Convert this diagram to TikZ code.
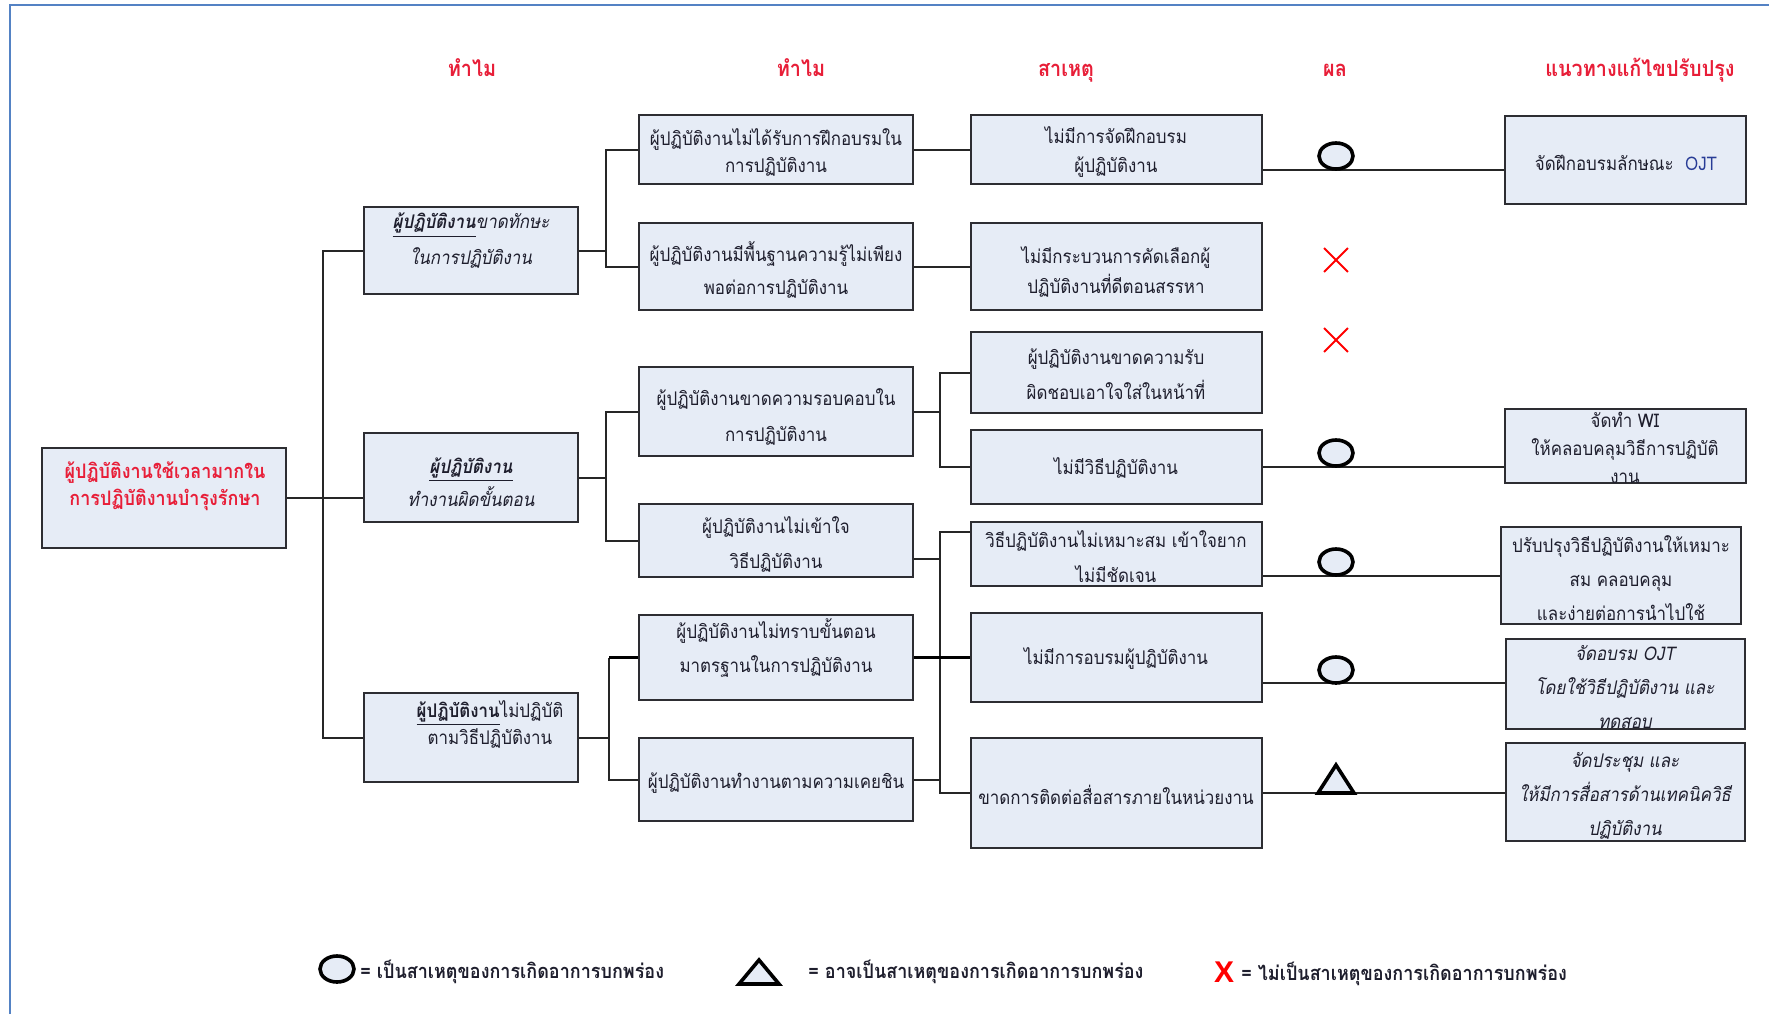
\documentclass[tikz,border=0pt]{standalone}
\usepackage{fontspec}
\usetikzlibrary{fit,shapes.geometric,shapes.misc}
\newfontfamily\thai[Script=Thai,FakeStretch=0.9]{Loma}
\newfontfamily\latinsans{Liberation Sans}
\definecolor{boxfill}{RGB}{230,236,246}
\definecolor{boxline}{RGB}{45,45,50}
\definecolor{hdred}{RGB}{232,30,56}
\definecolor{txtcol}{RGB}{30,30,45}
\definecolor{framecol}{RGB}{84,130,196}
\definecolor{ojtblue}{RGB}{40,60,150}
\begin{document}
\begin{tikzpicture}[x=0.5pt,y=-0.5pt,
  box/.style={draw=boxline, fill=boxfill, line width=1.1pt, inner sep=0pt},
  conn/.style={draw=black!85, line width=1pt},
  thickconn/.style={draw=black, line width=1.7pt},
  txt/.style={align=center, inner sep=0pt, text=txtcol, font=\thai\fontsize{9.4}{#1}\selectfont},
  txt/.default=16,
  itxt/.style={txt=#1, font=\thai\itshape\fontsize{9.4}{#1}\selectfont},
  hdr/.style={anchor=base, inner sep=0pt, text=hdred, font=\thai\bfseries\fontsize{11}{13}\selectfont},
  okmark/.style={ellipse, draw=black, fill=boxfill, line width=1.8pt, minimum width=17pt, minimum height=13pt, inner sep=0pt},
  nomark/.style={cross out, draw=red, line width=0.9pt, minimum size=11pt, inner sep=0pt},
  trimark/.style={draw=black, fill=boxfill, line width=1.8pt, line join=miter},
  legtxt/.style={anchor=base west, inner sep=0pt, text=txtcol, font=\thai\bfseries\fontsize{10}{12}\selectfont},
]
\useasboundingbox (0,0) rectangle (1769,1014);
\fill[white] (0,0) rectangle (1769,1014);
\draw[framecol, line width=1.2pt] (10,1014) -- (10,5) -- (1769,5);

% column headings
\node[hdr] (h1) at (472,76) {ทำไม};
\node[hdr] (h2) at (801,76) {ทำไม};
\node[hdr] (h3) at (1066,76) {สาเหตุ};
\node[hdr] (h4) at (1335,76) {ผล};
\node[hdr] (h5) at (1640,76) {แนวทางแก้ไขปรับปรุง};

% boxes
\node[box, fit={(42,448) (286,548)}] (root) {};
\node[box, fit={(364,207) (578,294)}] (A) {};
\node[box, fit={(364,433) (578,522)}] (B) {};
\node[box, fit={(364,693) (578,782)}] (C) {};
\node[box, fit={(639,115) (913,184)}] (A1) {};
\node[box, fit={(639,223) (913,310)}] (A2) {};
\node[box, fit={(639,367) (913,456)}] (B1) {};
\node[box, fit={(639,504) (913,577)}] (B2) {};
\node[box, fit={(639,615) (913,700)}] (C1) {};
\node[box, fit={(639,738) (913,821)}] (C2) {};
\node[box, fit={(971,115) (1262,184)}] (A1c) {};
\node[box, fit={(971,223) (1262,310)}] (A2c) {};
\node[box, fit={(971,332) (1262,413)}] (B1a) {};
\node[box, fit={(971,430) (1262,504)}] (B1b) {};
\node[box, fit={(971,522) (1262,586)}] (B2c) {};
\node[box, fit={(971,613) (1262,702)}] (Tc) {};
\node[box, fit={(971,738) (1262,848)}] (Comm) {};
\node[box, fit={(1505,116) (1746,204)}] (S1) {};
\node[box, fit={(1505,409) (1746,483)}] (S2) {};
\node[box, fit={(1501,527) (1741,624)}] (S3) {};
\node[box, fit={(1506,639) (1745,729)}] (S4) {};
\node[box, fit={(1506,743) (1745,841)}] (S5) {};

% box texts
\node[txt=13.5, text=hdred, font=\thai\bfseries\fontsize{10}{13.5}\selectfont] (t-root) at (165,486)
  {ผู้ปฏิบัติงานใช้เวลามากใน\\การปฏิบัติงานบำรุงรักษา};
\node[txt=18] (t-A) at (471,241)
  {\underline{\bfseries\itshape ผู้ปฏิบัติงาน}{\itshape ขาดทักษะ}\\{\itshape ในการปฏิบัติงาน}};
\node[txt=16.5] (t-B) at (471,482)
  {\underline{\bfseries\itshape ผู้ปฏิบัติงาน}\\{\itshape ทำงานผิดขั้นตอน}};
\node[txt=13.5] (t-C) at (490,724)
  {\underline{\bfseries ผู้ปฏิบัติงาน}ไม่ปฏิบัติ\\ตามวิธีปฏิบัติงาน};
\node[txt=13.5] (t-A1) at (776,152) {ผู้ปฏิบัติงานไม่ได้รับการฝึกอบรมใน\\การปฏิบัติงาน};
\node[txt=16.5] (t-A2) at (776,270) {ผู้ปฏิบัติงานมีพื้นฐานความรู้ไม่เพียง\\พอต่อการปฏิบัติงาน};
\node[txt=18] (t-B1) at (776,417) {ผู้ปฏิบัติงานขาดความรอบคอบใน\\การปฏิบัติงาน};
\node[txt=17.5] (t-B2) at (776,544) {ผู้ปฏิบัติงานไม่เข้าใจ\\วิธีปฏิบัติงาน};
\node[txt=17] (t-C1) at (776,648) {ผู้ปฏิบัติงานไม่ทราบขั้นตอน\\มาตรฐานในการปฏิบัติงาน};
\node[txt] (t-C2) at (776,783) {ผู้ปฏิบัติงานทำงานตามความเคยชิน};
\node[txt=14.5] (t-A1c) at (1116,152) {ไม่มีการจัดฝึกอบรม\\ผู้ปฏิบัติงาน};
\node[txt=15] (t-A2c) at (1116,272) {ไม่มีกระบวนการคัดเลือกผู้\\ปฏิบัติงานที่ดีตอนสรรหา};
\node[txt=17.5] (t-B1a) at (1116,374) {ผู้ปฏิบัติงานขาดความรับ\\ผิดชอบเอาใจใส่ในหน้าที่};
\node[txt] (t-B1b) at (1116,468) {ไม่มีวิธีปฏิบัติงาน};
\node[txt=17.5] (t-B2c) at (1116,557) {วิธีปฏิบัติงานไม่เหมาะสม เข้าใจยาก\\ไม่มีชัดเจน};
\node[txt] (t-Tc) at (1116,658) {ไม่มีการอบรมผู้ปฏิบัติงาน};
\node[txt] (t-Comm) at (1116,795) {ขาดการติดต่อสื่อสารภายในหน่วยงาน};
\node[txt] (t-S1) at (1626,163) {จัดฝึกอบรมลักษณะ\ \ {\color{ojtblue}OJT}};
\node[txt=14] (t-S2) at (1625,448) {จัดทำ WI\\ให้คลอบคลุมวิธีการปฏิบัติ\\งาน};
\node[txt=17] (t-S3) at (1621,578) {ปรับปรุงวิธีปฏิบัติงานให้เหมาะ\\สม คลอบคลุม\\และง่ายต่อการนำไปใช้};
\node[itxt=17] (t-S4) at (1625,687) {จัดอบรม OJT\\โดยใช้วิธีปฏิบัติงาน และ\\ทดสอบ};
\node[itxt=17] (t-S5) at (1625,796) {จัดประชุม และ\\ให้มีการสื่อสารด้านเทคนิควิธี\\ปฏิบัติงาน};

% spine positions
\coordinate (sp1) at (323,0);
\coordinate (sp2) at (606,0);
\coordinate (sp2c) at (609,0);
\coordinate (sp3) at (940,0);

% first level
\draw[conn] (root.east) -- (root.east -| B.west);
\draw[conn] (A.west) -- (A.west -| sp1) -- (C.west -| sp1) -- (C.west);

% second level
\draw[conn] (A.east) -- (A.east -| sp2);
\draw[conn] (A1.west) -- (A1.west -| sp2) -- (A2.west -| sp2) -- (A2.west);
\draw[conn] (B.east) -- (B.east -| sp2);
\draw[conn] (B1.west) -- (B1.west -| sp2) -- (B2.west -| sp2) -- (B2.west);
\draw[conn] (C.east) -- (C.east -| sp2c);
\draw[conn] (C2.west) -- (C2.west -| sp2c) -- (C1.west -| sp2c);
\draw[thickconn] (C1.west -| sp2c) -- (C1.west);

% third level
\draw[conn] (A1.east) -- (A1c.west);
\draw[conn] (A2.east) -- (A2c.west);
\draw[conn] (B1.east) -- (B1.east -| sp3);
\draw[conn] (B1a.west) -- (B1a.west -| sp3) -- (B1b.west -| sp3) -- (B1b.west);
\coordinate (b2out) at ([yshift=-9.25pt]B2.east);
\coordinate (b2in) at ([yshift=11pt]B2c.west);
\draw[conn] (b2out) -- (b2out -| sp3);
\draw[conn] (b2in) -- (b2in -| sp3) -- (Comm.west -| sp3) -- (Comm.west);
\draw[thickconn] (C1.east) -- (Tc.west);
\draw[conn] (C2.east) -- (C2.east -| sp3);

% causes to improvements
\coordinate (r1) at ([yshift=-10pt]A1c.east);
\draw[conn] (r1) -- (r1 -| S1.west);
\draw[conn] (B1b.east) -- (B1b.east -| S2.west);
\coordinate (r3) at ([yshift=-11pt]B2c.east);
\draw[conn] (r3) -- (r3 -| S3.west);
\coordinate (r4) at ([yshift=-12.75pt]Tc.east);
\draw[conn] (r4) -- (r4 -| S4.west);
\draw[conn] (Comm.east) -- (Comm.east -| S5.west);

% result marks
\node[okmark] (m1) at (1336,156) {};
\node[nomark] (m2) at (1336,260) {};
\node[nomark] (m3) at (1336,340) {};
\node[okmark] (m4) at (1336,453) {};
\node[okmark] (m5) at (1336,562) {};
\node[okmark] (m6) at (1336,670) {};
\coordinate (m7) at (1336,779);
\filldraw[trimark] (1318,793) -- (1336,765) -- (1354,793) -- cycle;

% legend
\node[okmark] (lg1) at (337,969) {};
\node[legtxt] (lt1) at (360,978) {= เป็นสาเหตุของการเกิดอาการบกพร่อง};
\coordinate (lg2) at (759,972);
\filldraw[trimark] (739,984) -- (759,960) -- (779,984) -- cycle;
\node[legtxt] (lt2) at (808,978) {= อาจเป็นสาเหตุของการเกิดอาการบกพร่อง};
\node[inner sep=0pt, text=red, font=\latinsans\bfseries\fontsize{15}{15}\selectfont] (lg3) at (1224,972) {X};
\node[legtxt] (lt3) at (1241,980) {= ไม่เป็นสาเหตุของการเกิดอาการบกพร่อง};
\end{tikzpicture}
\end{document}
